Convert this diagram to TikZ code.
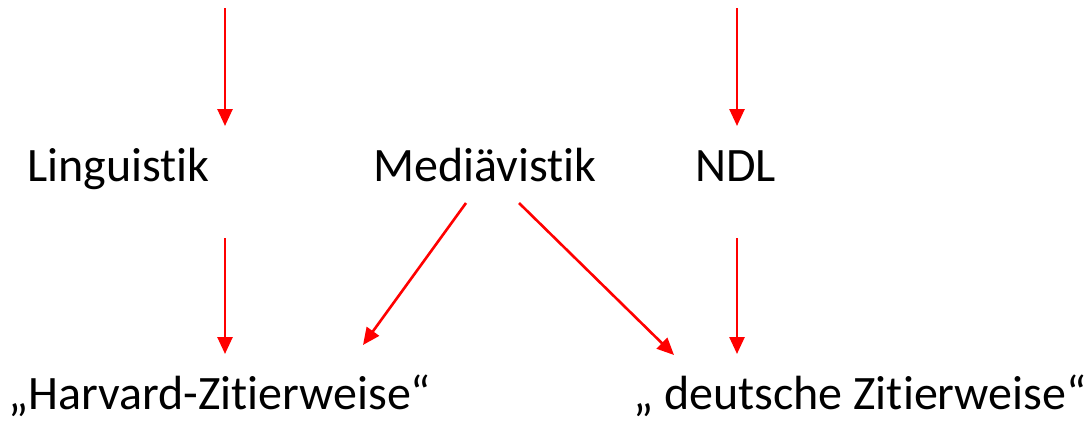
\documentclass[tikz,border=0pt]{standalone}
\usepackage{fontspec}
\setmainfont{Carlito}[Ligatures={NoCommon}]
\usetikzlibrary{arrows.meta}
\tikzset{
  lbl/.style={anchor=base west, inner sep=0pt, font=\fontsize{48}{57}\selectfont},
  arr/.style={draw=red, line width=2.6pt, -{Triangle[length=17pt,width=15pt]}}
}
\begin{document}
\begin{tikzpicture}[x=1pt,y=-1pt]
\useasboundingbox (0,0) rectangle (1091,423);
\node[lbl] (ling) at (27,181) {Linguistik};
\node[lbl] (med) at (373,181) {Mediävistik};
\node[lbl] (ndl) at (695,181) {NDL};
\node[lbl] (harv) at (8,409) {„Harvard-Zitierweise“};
\node[lbl] (deut) at (633,409) {„ deutsche Zitierweise“};
\coordinate (t1s) at (225,8);   \coordinate (t1e) at (225,126);
\coordinate (t2s) at (737,8);   \coordinate (t2e) at (737,126);
\coordinate (m1s) at (225,238); \coordinate (m1e) at (225,354);
\coordinate (m2s) at (737,238); \coordinate (m2e) at (737,354);
\coordinate (d1s) at (466,203); \coordinate (d1e) at (363,345);
\coordinate (d2s) at (519,203); \coordinate (d2e) at (674,355);
\draw[arr] (t1s) -- (t1e);
\draw[arr] (t2s) -- (t2e);
\draw[arr] (m1s) -- (m1e);
\draw[arr] (m2s) -- (m2e);
\draw[arr] (d1s) -- (d1e);
\draw[arr] (d2s) -- (d2e);
\end{tikzpicture}
\end{document}
